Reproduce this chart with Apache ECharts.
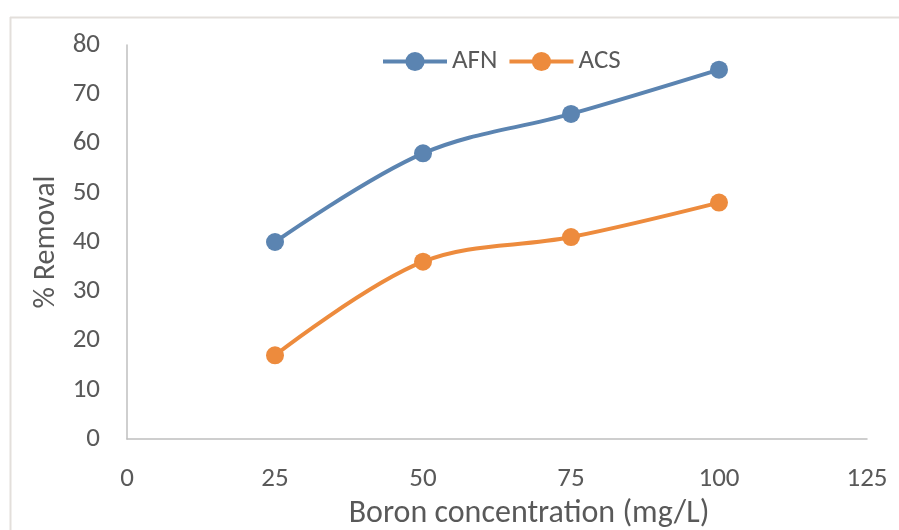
<!DOCTYPE html>
<html><head><meta charset="utf-8">
<script src="https://cdn.jsdelivr.net/npm/echarts@6/dist/echarts.min.js"></script>
<style>html,body{margin:0;padding:0;background:#fff}#c{width:899px;height:530px}</style>
</head><body><div id="c"></div>
<script>
var xValues = [25, 50, 75, 100];
var afn = [40, 58, 66, 75];
var acs = [17, 36, 41, 48];
var seriesNames = ['AFN', 'ACS'];
var xTitle = 'Boron concentration (mg/L)';
var yTitle = '% Removal';

var font = "Carlito, 'Liberation Sans Narrow', 'Open Sans', sans-serif";
var chart = echarts.init(document.getElementById('c'));
function pairs(v){ return xValues.map(function(x,i){ return [x, v[i]]; }); }
chart.setOption({
  animation: false,
  backgroundColor: '#fff',
  graphic: [
    {type:'line', shape:{x1:10,y1:17.5,x2:899,y2:17.5}, style:{stroke:'#e3dfdb', lineWidth:2}},
    {type:'line', shape:{x1:10.5,y1:17,x2:10.5,y2:530}, style:{stroke:'#e3dfdb', lineWidth:2}}
  ],
  legend: {
    top: 43, left: 376,
    itemWidth: 64, itemHeight: 24, itemGap: 10,
    lineStyle: {width: 4},
    textStyle: {color:'#595959', fontSize:27, fontFamily:font},
    data: seriesNames
  },
  grid: {left:127, right:32, top:45, bottom:91, outerBoundsMode:'none', containLabel:false},
  xAxis: {
    type:'value', min:0, max:125, interval:25,
    name: xTitle, nameLocation:'middle', nameGap:54,
    nameTextStyle:{color:'#595959', fontSize:32, fontFamily:font, padding:[0,0,0,64]},
    axisLine:{lineStyle:{color:'#bfbfbf', width:1.5}},
    axisTick:{show:false},
    splitLine:{show:false},
    axisLabel:{color:'#595959', fontSize:27, fontFamily:font, margin:27}
  },
  yAxis: {
    type:'value', min:0, max:80, interval:10,
    name: yTitle, nameLocation:'middle', nameGap:64,
    nameTextStyle:{color:'#595959', fontSize:30, fontFamily:font},
    axisLine:{show:true, lineStyle:{color:'#bfbfbf', width:1.5}},
    axisTick:{show:false},
    splitLine:{show:false},
    axisLabel:{color:'#595959', fontSize:27, fontFamily:font, margin:27}
  },
  series: [
    {name:seriesNames[0], type:'line', smooth:0.35, data:pairs(afn),
     symbol:'circle', symbolSize:18, color:'#5b84b1',
     lineStyle:{width:4}, itemStyle:{color:'#5b84b1'}},
    {name:seriesNames[1], type:'line', smooth:0.35, data:pairs(acs),
     symbol:'circle', symbolSize:18, color:'#ed8b3d',
     lineStyle:{width:4}, itemStyle:{color:'#ed8b3d'}}
  ]
});
</script></body></html>
